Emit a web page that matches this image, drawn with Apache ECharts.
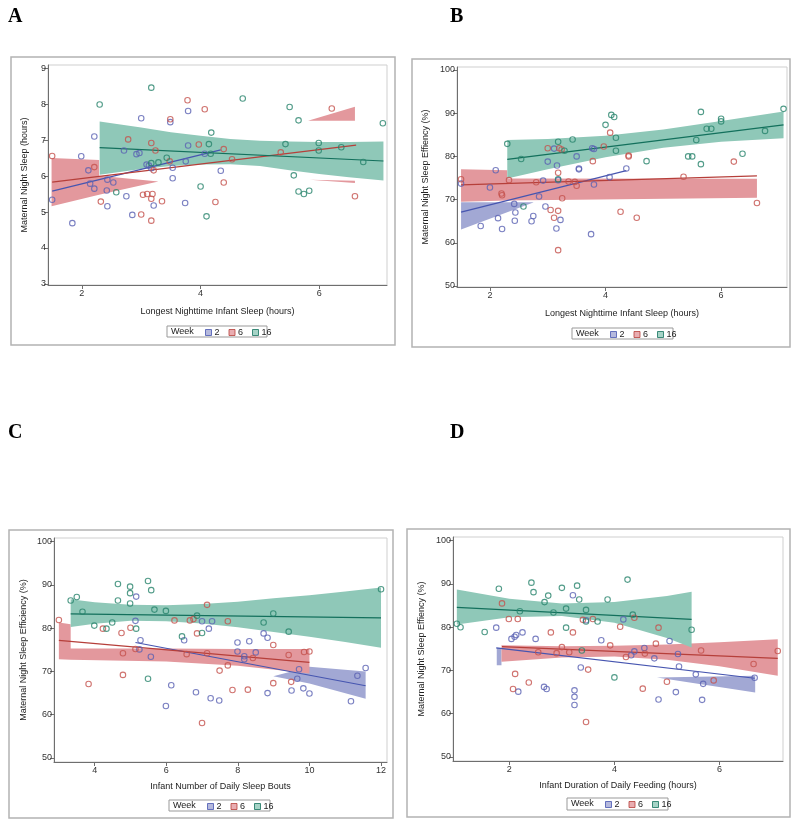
<!DOCTYPE html>
<html><head><meta charset="utf-8">
<script src="https://cdn.jsdelivr.net/npm/echarts@6/dist/echarts.min.js"></script>
<style>html,body{margin:0;padding:0;background:#fff}#c{width:800px;height:825px}</style>
</head><body><div id="c"></div>
<script>
// ---------- Panel A: Longest nighttime infant sleep vs maternal night sleep ----------
const A_wk2 = [[1.5,5.34],[1.84,4.69],[1.99,6.55],[2.11,6.16],[2.21,7.10],[2.14,5.79],[2.21,5.65],[2.43,5.90],[2.42,5.60],[2.43,5.16],[2.53,5.82],[2.71,6.71],[2.75,5.44],[2.85,4.92],[2.92,6.61],[2.97,6.64],[3.0,7.61],[3.09,6.32],[3.13,6.29],[3.17,6.22],[3.21,5.18],[3.49,7.5],[3.53,6.23],[3.53,5.94],[3.74,5.25],[3.75,6.41],[3.79,7.81],[3.79,6.85],[4.07,6.62],[4.34,6.15]];
const A_wk6 = [[1.5,6.56],[2.21,6.25],[2.32,5.29],[2.78,7.02],[3.0,4.93],[3.03,5.48],[3.10,5.5],[3.17,6.92],[3.17,5.37],[3.19,5.5],[3.17,4.76],[3.21,6.16],[3.24,6.71],[3.35,5.30],[3.48,6.41],[3.49,7.58],[3.78,8.11],[3.97,6.88],[4.07,7.86],[4.25,5.28],[4.39,6.75],[4.39,5.82],[4.53,6.47],[5.35,6.66],[6.21,7.88],[6.6,5.44]];
const A_wk16 = [[2.30,7.99],[2.58,5.55],[3.17,8.46],[3.17,6.36],[3.29,6.38],[3.43,6.51],[4.0,5.71],[4.1,4.88],[4.14,6.89],[4.17,6.62],[4.18,7.21],[4.71,8.16],[5.43,6.89],[5.5,7.92],[5.57,6.02],[5.65,7.55],[5.65,5.57],[5.74,5.5],[5.83,5.59],[5.99,6.92],[5.99,6.71],[6.37,6.8],[6.74,6.39],[7.07,7.47]];
const A_fit2 = [[1.5,5.58],[4.34,6.73]];
const A_fit6 = [[1.5,5.83],[6.62,6.86]];
const A_fit16 = [[2.3,6.79],[7.08,6.42]];
// band rows: [x, lower, upper]
const A_band6a = [[1.49,5.16,6.50],[2.29,5.48,6.45],[2.29,5.48,6.01],[3.29,5.85,5.85]];
const A_band6b = [[5.81,7.54,7.54],[6.60,7.54,7.93]];
const A_band6c = [[5.84,5.90,5.90],[6.60,5.81,5.87]];
const A_band16 = [[2.3,6.04,7.52],[3.0,6.2,7.35],[3.5,6.28,7.22],[4.0,6.32,7.12],[4.5,6.33,7.03],[5.0,6.28,6.98],[5.5,6.16,6.96],[6.0,6.06,6.95],[6.5,5.97,6.95],[7.08,5.88,6.96]];

// ---------- Panel B ----------
const B_wk2 = [[1.50,73.7],[1.84,63.9],[2.0,72.8],[2.10,76.8],[2.14,65.7],[2.21,63.2],[2.42,69.0],[2.44,67.0],[2.43,65.1],[2.72,65.0],[2.75,66.2],[2.85,70.7],[2.92,74.4],[2.96,68.4],[3.0,78.8],[3.11,81.8],[3.15,63.3],[3.16,77.9],[3.18,74.5],[3.22,65.3],[3.50,80.0],[3.54,77.2],[3.54,77.0],[3.75,62.0],[3.77,81.9],[3.80,81.7],[3.80,73.5],[4.07,75.2],[4.36,77.2]];
const B_wk6 = [[1.50,74.7],[2.20,71.4],[2.21,71.0],[2.33,74.5],[2.80,74.0],[3.0,81.9],[3.05,67.6],[3.11,65.8],[3.18,76.2],[3.18,67.4],[3.18,58.3],[3.20,81.9],[3.24,81.6],[3.25,70.3],[3.36,74.2],[3.47,74.1],[3.50,73.2],[3.78,78.9],[3.97,82.3],[4.08,85.5],[4.26,67.2],[4.40,80.0],[4.40,80.2],[4.54,65.8],[5.35,75.3],[6.22,78.8],[6.62,69.2]];
const B_wk16 = [[2.30,82.9],[2.54,79.4],[2.58,68.4],[3.18,74.7],[3.18,83.4],[3.29,81.3],[3.43,83.9],[4.0,87.3],[4.10,89.6],[4.15,89.1],[4.18,84.3],[4.18,81.3],[4.71,78.9],[5.43,80.0],[5.50,80.0],[5.57,83.8],[5.65,90.3],[5.65,78.2],[5.75,86.4],[5.83,86.4],[6.0,88.7],[6.0,88.1],[6.37,80.6],[6.76,85.9],[7.08,91.0]];
const B_fit2 = [[1.5,67.1],[4.36,76.7]];
const B_fit6 = [[1.5,73.4],[6.62,75.5]];
const B_fit16 = [[2.3,79.3],[7.08,87.3]];
const B_band2 = [[1.5,63.1,69.4],[2.75,69.3,69.4]];
const B_band6 = [[1.5,69.5,77.0],[2.3,69.8,76.8],[2.3,69.8,74.9],[6.62,70.4,74.8]];
const B_band16 = [[2.3,74.9,83.8],[3.0,77.0,84.0],[4.0,79.8,84.8],[5.0,82.0,86.2],[6.0,83.4,88.2],[7.08,84.2,90.4]];

// ---------- Panel C ----------
const C_wk2 = [[5.14,81.7],[5.16,87.3],[5.28,77.2],[5.25,75.1],[5.57,73.4],[5.99,62.0],[6.14,66.8],[6.5,77.2],[6.83,65.2],[7.0,81.6],[7.19,79.9],[7.24,63.8],[7.28,81.6],[7.48,63.3],[7.99,76.7],[7.99,74.6],[8.18,73.5],[8.18,72.8],[8.32,77.0],[8.50,74.4],[8.72,78.8],[8.83,77.8],[8.83,65.0],[9.50,65.6],[9.66,68.3],[9.71,70.5],[9.83,66.1],[10.0,64.9],[11.16,63.1],[11.34,69.0],[11.57,70.8]];
const C_wk6 = [[3.0,81.9],[3.83,67.1],[4.23,79.9],[4.75,78.9],[4.79,69.2],[4.79,74.2],[5.0,80.1],[5.14,75.2],[6.23,81.8],[6.57,74.0],[6.66,81.8],[6.76,82.1],[6.86,78.8],[7.0,58.1],[7.14,85.4],[7.14,74.2],[7.49,70.2],[7.72,71.4],[7.72,81.6],[7.85,65.7],[8.28,65.8],[8.42,73.1],[8.99,76.1],[8.99,67.3],[9.42,73.8],[9.49,67.6],[9.85,74.5],[10.0,74.6]];
const C_wk16 = [[3.33,86.4],[3.50,87.2],[3.66,83.8],[3.99,80.6],[4.33,79.9],[4.49,81.3],[4.65,90.2],[4.65,86.4],[4.99,89.6],[4.99,88.1],[4.99,85.7],[5.16,79.9],[5.49,90.9],[5.49,68.3],[5.58,88.8],[5.67,84.3],[5.99,84.0],[6.44,78.1],[6.86,82.9],[7.0,78.9],[8.72,81.3],[8.99,83.4],[9.42,79.2],[12.0,89.0]];
const C_fit2 = [[5.14,76.7],[11.57,66.7]];
const C_fit6 = [[3.0,77.2],[10.0,72.1]];
const C_fit16 = [[3.33,83.3],[12.0,82.4]];
const C_band2 = [[8.99,68.9,68.9],[10.0,67.2,71.1],[11.57,63.7,70.0]];
const C_band6 = [[3.0,72.8,81.3],[3.33,72.7,80.9],[3.33,72.7,75.3],[6,72.3,75.3],[8,71.3,75.2],[10,69.5,75.2]];
const C_band16 = [[3.33,80.3,86.7],[4,81.0,86.0],[5,81.7,85.4],[6,81.6,85.3],[7,81.1,85.6],[8,80.2,86.1],[9,79.1,86.9],[10,78.0,87.6],[11,76.8,88.5],[12,75.5,89.4]];

// ---------- Panel D ----------
const D_wk2 = [[1.75,79.9],[2.04,77.3],[2.10,77.8],[2.13,78.2],[2.17,65.1],[2.25,78.8],[2.50,77.3],[2.66,66.2],[2.71,65.7],[3.21,87.4],[3.24,65.4],[3.24,63.9],[3.24,62.0],[3.36,70.7],[3.46,81.6],[3.75,77.0],[4.17,81.8],[4.32,73.5],[4.38,74.4],[4.57,75.2],[4.76,72.8],[4.84,63.3],[5.05,76.8],[5.17,65.0],[5.21,73.8],[5.23,70.9],[5.55,69.1],[5.67,63.2],[5.69,66.9],[6.67,68.3]];
const D_wk6 = [[1.86,85.5],[1.99,81.9],[2.07,65.7],[2.11,69.2],[2.16,81.9],[2.37,67.2],[2.55,74.2],[2.79,78.8],[2.90,74.0],[3.0,75.4],[3.14,74.2],[3.21,78.8],[3.40,81.7],[3.46,58.1],[3.50,70.2],[3.59,81.9],[3.92,75.8],[4.11,80.1],[4.22,73.1],[4.38,82.2],[4.54,65.8],[4.58,73.9],[4.79,76.2],[4.84,79.9],[5.0,67.4],[5.65,74.6],[5.89,67.7],[6.65,71.5],[7.11,74.5]];
const D_wk16 = [[1.0,80.8],[1.07,80.0],[1.53,78.9],[1.80,88.9],[2.20,83.7],[2.42,90.3],[2.46,88.1],[2.67,85.8],[2.74,87.3],[2.84,83.4],[3.0,89.1],[3.08,84.3],[3.08,79.9],[3.29,89.6],[3.33,86.4],[3.38,74.6],[3.46,84.0],[3.46,81.3],[3.68,81.3],[3.87,86.4],[4.0,68.4],[4.25,91.0],[4.35,82.9],[5.47,79.4]];
const D_fit2 = [[1.75,75.2],[6.67,68.2]];
const D_fit6 = [[1.86,75.5],[7.11,72.8]];
const D_fit16 = [[1.0,84.6],[5.47,81.8]];
const D_band2a = [[1.76,71.2,75.2],[1.85,71.2,75.2]];
const D_band2b = [[4.81,68.4,68.4],[6.68,64.9,68.8]];
const D_band6 = [[1.85,72.0,75.8],[3,73.0,75.6],[4,73.2,75.7],[5,72.5,76.0],[6,71.0,76.5],[7.11,68.8,77.2]];
const D_band16 = [[1.0,80.6,88.7],[2.0,82.3,86.6],[3.0,82.6,85.5],[4.0,81.0,85.8],[5.0,77.5,87.2],[5.47,75.3,88.2]];

// ticks / labels
const weeks = ['2','6','16'];
const xTicksA = [2,4,6], yTicksA = [3,4,5,6,7,8,9];
const xTicksC = [4,6,8,10,12], yTicksEff = [50,60,70,80,90,100];
const xTitles = ['Longest Nighttime Infant Sleep (hours)','Longest Nighttime Infant Sleep (hours)','Infant Number of Daily Sleep Bouts','Infant Duration of Daily Feeding (hours)'];
const yTitles = ['Maternal Night Sleep (hours)','Maternal Night Sleep Effiency (%)','Maternal Night Sleep Efficiency (%)','Maternal Night Sleep Effiency (%)'];
const panelLetters = ['A','B','C','D'];

// ---------- styling ----------
const FONT = '"Liberation Sans", Arial, sans-serif';
const markerCol = {'2':'#5a62b3','6':'#c4514c','16':'#27836c'};
const lineCol   = {'2':'#4655b0','6':'#b63f3a','16':'#13705c'};
const bandCol   = {'2':'#a2a8d4','6':'#e3989d','16':'#8fc8b8'};

const grids = [
  {left:48, top:65, width:339, height:220},
  {left:457, top:67, width:330, height:220},
  {left:54, top:538, width:333, height:224},
  {left:453, top:537, width:330, height:224}
];
const xRanges = [[1.43,7.14],[1.43,7.14],[2.864,12.167],[0.927,7.21]];
const yRanges = [[2.97,9.09],[49.77,100.69],[49.07,100.85],[49.07,100.85]];
const xTickSets = [xTicksA, xTicksA, xTicksC, xTicksA];
const yTickSets = [yTicksA, yTicksEff, yTicksEff, yTicksEff];
const xNameGap = [22,22,20,20];
const yNameGap = [19,27,26,27];
const frames = [[11,57,384,288],[412,59,378,288],[9,530,384,288],[407,529,383,288]];
const letterPos = [[8,7],[450,7],[8,423],[450,423]];
const legendBox = [[167,326,100,11],[572,328,101,11],[169,800,101,11],[567,798,101,12]];

const panels = [
  {wk:{'2':A_wk2,'6':A_wk6,'16':A_wk16}, fit:{'2':A_fit2,'6':A_fit6,'16':A_fit16}, bands:[['6',A_band6a],['6',A_band6b],['6',A_band6c],['16',A_band16]]},
  {wk:{'2':B_wk2,'6':B_wk6,'16':B_wk16}, fit:{'2':B_fit2,'6':B_fit6,'16':B_fit16}, bands:[['2',B_band2],['6',B_band6],['16',B_band16]]},
  {wk:{'2':C_wk2,'6':C_wk6,'16':C_wk16}, fit:{'2':C_fit2,'6':C_fit6,'16':C_fit16}, bands:[['2',C_band2],['6',C_band6],['16',C_band16]]},
  {wk:{'2':D_wk2,'6':D_wk6,'16':D_wk16}, fit:{'2':D_fit2,'6':D_fit6,'16':D_fit16}, bands:[['2',D_band2a],['2',D_band2b],['6',D_band6],['16',D_band16]]}
];

const xAxis = [], yAxis = [], series = [], legend = [], graphic = [];
panels.forEach((p, i) => {
  xAxis.push({
    type:'value', gridIndex:i, min:xRanges[i][0], max:xRanges[i][1],
    name:xTitles[i], nameLocation:'middle', nameGap:xNameGap[i],
    nameTextStyle:{fontFamily:FONT, fontSize:9, color:'#222'},
    axisLine:{show:true, onZero:false, lineStyle:{color:'#6e6e6e', width:1}},
    axisTick:{show:true, length:4, lineStyle:{color:'#6e6e6e'}, customValues:xTickSets[i]},
    axisLabel:{fontFamily:FONT, fontSize:9, color:'#333', margin:4, customValues:xTickSets[i], formatter:v=>String(v)},
    splitLine:{show:false}
  });
  yAxis.push({
    type:'value', gridIndex:i, min:yRanges[i][0], max:yRanges[i][1],
    name:yTitles[i], nameLocation:'middle', nameGap:yNameGap[i], nameRotate:90,
    nameTextStyle:{fontFamily:FONT, fontSize:9, color:'#222'},
    axisLine:{show:true, onZero:false, lineStyle:{color:'#6e6e6e', width:1}},
    axisTick:{show:true, length:4, lineStyle:{color:'#6e6e6e'}, customValues:yTickSets[i]},
    axisLabel:{fontFamily:FONT, fontSize:9, color:'#333', margin:2, customValues:yTickSets[i], formatter:v=>String(v)},
    splitLine:{show:false}
  });
  // bands
  p.bands.forEach(([w, rows]) => {
    series.push({
      type:'custom', name:'band'+w, xAxisIndex:i, yAxisIndex:i, silent:true, clip:true,
      data:[[rows[0][0], rows[0][1]]],
      renderItem:(params, api) => {
        const top = rows.map(r => api.coord([r[0], r[2]]));
        const bot = rows.slice().reverse().map(r => api.coord([r[0], r[1]]));
        return {type:'polygon', shape:{points: top.concat(bot)}, style:{fill: bandCol[w], stroke:'none'}};
      }
    });
  });
  // fit lines
  weeks.forEach(w => {
    series.push({type:'line', name:'fit'+w, xAxisIndex:i, yAxisIndex:i, data:p.fit[w], symbol:'none', silent:true,
      lineStyle:{color:lineCol[w], width:1.2}, z:3});
  });
  // markers
  weeks.forEach(w => {
    series.push({type:'scatter', name:w, xAxisIndex:i, yAxisIndex:i, data:p.wk[w], symbol:'circle', symbolSize:5.5,
      itemStyle:{color:'rgba(255,255,255,0)', borderColor:markerCol[w], borderWidth:1.1}, z:4});
  });
  const lb = legendBox[i];
  legend.push({
    left: lb[0]+38, top: lb[1]+2, padding:0, itemWidth:6, itemHeight:6, itemGap:9, selectedMode:false,
    textStyle:{fontFamily:FONT, fontSize:9, color:'#222', padding:[0,0,0,-2]},
    data: weeks.map(w => ({name:w, icon:'rect', itemStyle:{color:bandCol[w], borderColor:lineCol[w], borderWidth:1}}))
  });
  graphic.push({type:'rect', shape:{x:frames[i][0], y:frames[i][1], width:frames[i][2], height:frames[i][3]}, style:{fill:'none', stroke:'#b3b3b3', lineWidth:1.5}, silent:true});
  graphic.push({type:'rect', shape:{x:lb[0], y:lb[1], width:lb[2], height:lb[3]}, style:{fill:'none', stroke:'#999', lineWidth:1}, silent:true});
  graphic.push({type:'text', x:lb[0]+4, y:lb[1]+lb[3]/2, style:{text:'Week', fontFamily:FONT, fontSize:9, fill:'#222', verticalAlign:'middle'}, silent:true});
  graphic.push({type:'text', x:letterPos[i][0], y:letterPos[i][1], style:{text:panelLetters[i], fontFamily:'"Liberation Serif", "Times New Roman", serif', fontWeight:'bold', fontSize:20, fill:'#000'}, silent:true});
});

const chart = echarts.init(document.getElementById('c'), null, {renderer:'canvas'});
chart.setOption({
  backgroundColor:'#fff',
  animation:false,
  grid: grids.map(g => Object.assign({show:true, borderColor:'#cfcfcf', borderWidth:1, backgroundColor:'transparent'}, g)),
  xAxis, yAxis, series, legend, graphic
});
</script>
</body></html>
